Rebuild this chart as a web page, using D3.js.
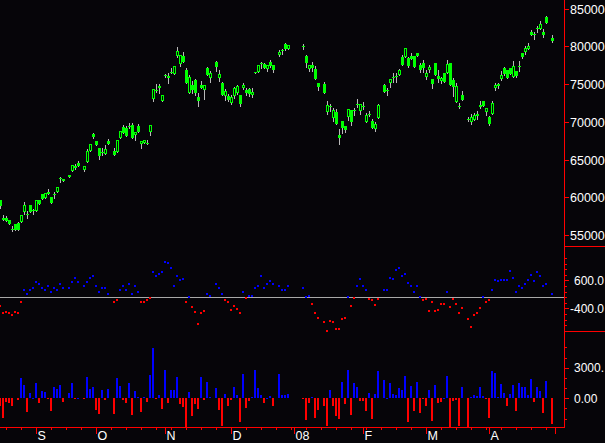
<!DOCTYPE html>
<html><head><meta charset="utf-8">
<script src="https://cdn.jsdelivr.net/npm/d3@7"></script>
<style>html,body{margin:0;padding:0;background:#060509;}svg{display:block;}</style>
</head><body><svg id="c" width="605" height="443"></svg>
<script>
// ---------- data ----------
const startDate = "2007-08-16";              // first weekday slot
const monthLabels = ["S","O","N","D","08","F","M","A",""];
const priceTicks = [55000,60000,65000,70000,75000,80000,85000];
const oscTicks = [600,-400];
const oscTickText = ["600.0","-400.0"];
const volTicks = [3000,0];
const volTickText = ["3000.","0.00"];

const opens = [
59700,57300,57200,56950,55850,56450,56600,56750,58000,57850,
58950,58300,58200,59600,60400,59850,60700,60050,60400,60700,
62500,62400,null,63000,63500,64150,64500,null,63600,64700,
66150,68400,67450,66500,66050,65800,67450,null,66150,66050,
67900,69350,69150,69500,69600,68250,69450,67000,67150,67250,
68600,73050,74200,74750,72800,76250,76100,76650,76400,78750,
77650,78750,76900,73800,74900,75550,73300,74900,74200,77200,
75850,null,78000,75850,75150,73450,73450,72550,73450,73800,
73550,74450,74200,74300,73550,76550,76650,77750,77650,77000,
78000,77550,null,78850,79550,80350,79650,null,null,null,
null,80050,78750,77000,77550,77000,75100,null,75000,71250,
72100,70450,71300,68250,70100,69450,70700,71550,71550,72350,
71500,72100,70000,71100,70100,69000,70450,null,74900,74200,
75100,75900,76050,76200,78650,78550,78450,78750,78750,79100,
77550,77850,75900,76900,75650,77750,76100,75350,76450,76500,
77750,75550,72650,72100,73550,null,70350,70000,70250,71050,
72250,72750,71350,70700,71100,74450,75000,75650,77100,76900,
77100,76000,76800,77450,79100,79200,79600,81900,81600,82400,
82300,81950,83950,null,81150];
const highs = [
59700,57700,57500,56950,56150,56450,56700,57700,59350,58200,
58950,58500,59600,59600,60400,60600,61150,60050,60700,61300,
62650,62400,null,63000,64250,64400,64750,null,64150,66450,
67050,68550,67450,66500,66500,66950,67700,null,66500,67600,
68800,69600,69450,69900,69900,68700,69700,67450,67600,67650,
69600,74300,75000,75000,73550,76350,76450,77100,77400,79950,
78850,79200,77100,76200,75350,75700,73800,75400,74900,77300,
76750,null,78050,76900,75300,74300,73650,73550,74600,74950,
73550,75100,74450,74550,74450,76600,77550,78000,77750,77550,
78200,77550,null,79500,79700,80400,80200,null,null,null,
null,80350,78850,77550,78000,77400,75100,null,75300,72750,
72400,71800,71700,69000,70100,69450,71700,71550,71900,73050,
72350,72650,71200,71450,70350,70000,72350,null,75000,74450,
75650,76450,76450,77000,78850,79750,78650,79100,78750,79100,
77750,78200,76900,77550,75650,77850,76900,76000,76450,78200,
77850,75750,75200,72450,74150,null,70700,71100,71200,71450,
72750,72750,71900,70750,72700,75100,75100,76800,77300,76900,
77100,78050,76800,78050,79100,80000,80400,82150,81950,82700,
83400,82300,84050,null,81500];
const lows = [
58550,56950,56850,56450,55550,55700,55600,56750,57850,57300,
58050,57750,58200,59150,59800,59850,60400,59250,59950,60700,
62050,62200,null,62700,63500,63800,64150,null,63500,64700,
66150,67800,66900,65100,65600,65800,67050,null,65600,66050,
67900,68550,68150,69150,67900,67650,68700,66500,67150,67000,
68300,72800,74000,73850,72800,75900,75200,76450,76400,78650,
77450,78000,75200,73800,73800,73550,72150,74500,73000,76200,
75300,null,76800,75450,73550,72900,72800,72350,73100,73650,
72100,74300,73550,73450,73350,76500,76650,77100,77100,76800,
77300,76650,null,78750,79000,79550,79650,null,null,null,
null,79650,77300,76800,76800,75700,74200,null,73850,71100,
71500,70150,69700,67050,68550,68700,70250,69550,70900,72000,
71100,71700,70000,70750,69200,68800,70450,null,74000,73550,
74650,75300,75300,76200,77550,78550,77300,78300,77300,78750,
76650,76650,75650,76650,74450,76200,75300,75200,75300,76500,
74900,73450,72600,71900,72900,null,70150,69650,70250,70350,
71900,72100,70900,69600,71050,74200,74450,75550,76200,75750,
76350,75900,76000,76800,78450,79000,79600,81450,80950,81950,
82300,81200,83100,null,80650];
const closes = [
58800,56950,56850,56500,55850,55700,55650,57700,58950,57850,
58050,58300,59600,59150,59800,60600,60400,59250,60400,61300,
62500,62200,null,62700,64250,63900,64150,null,64150,66100,
67050,68000,66900,65500,66050,66400,67050,null,65600,67600,
68800,68550,68150,69500,67900,68700,68700,67450,67600,67250,
69600,74300,74200,74500,73550,76250,75850,76450,77400,79400,
78850,78000,75200,76000,74200,73850,72750,74500,74900,76200,
76500,null,77250,76350,73550,74150,72900,73350,74450,74750,
72350,74900,73850,73700,74000,76550,77550,77750,77200,77550,
77450,76900,null,79300,79550,79650,80200,null,null,null,
null,80050,77850,77550,77100,75700,74650,null,73850,72250,
72100,71550,69700,67900,69250,68900,71700,70000,71550,72350,
72350,72100,70900,71100,69200,69700,72250,null,74000,74200,
75650,75900,75900,76900,77550,79750,77400,78300,77300,78750,
76900,77100,76500,77300,75000,76200,75650,75750,75300,77650,
74900,74650,74750,72100,72900,null,70350,70600,70900,70750,
72000,72100,71800,69700,72550,74900,74750,76200,76350,75750,
76350,77400,76100,77450,78550,79750,80100,81500,81600,82400,
83000,81500,83150,null,80750];

const oscillator = [
-310,-560,-530,-560,-630,-530,-560,-190,240,100,
240,340,530,480,310,240,390,170,310,240,
460,310,null,310,530,680,530,null,410,530,
680,750,410,190,310,310,120,null,-190,-100,
240,410,240,460,120,410,170,-190,-170,-120,
-20,890,770,820,890,1260,1210,1040,410,750,
600,630,-170,5,-340,-530,-970,-560,-480,120,
50,null,460,340,120,-120,-190,-460,-310,-410,
-560,170,-20,50,50,310,390,750,340,480,
560,460,null,390,270,270,390,null,null,null,
null,340,20,50,-240,-560,-750,null,-890,-1200,
-850,-890,-1140,-1140,-770,-750,20,-310,-20,390,
630,390,270,-50,-120,-270,-50,null,240,270,
680,630,970,1040,770,820,510,410,190,410,
20,-100,-50,-480,-170,-480,-460,-240,-240,170,
-340,-50,-240,-560,-390,null,-770,-1060,-630,-560,
-390,20,-190,-100,270,600,560,600,600,600,
920,700,190,390,340,460,600,800,560,890,
770,410,480,null,100];

const volumeFlow = [
-750,-1900,-330,-420,-720,0,-160,1990,1310,-1310,
560,70,1540,-420,720,650,-60,-1240,1140,880,
1310,-330,null,560,1540,-60,60,null,-60,2120,
920,1140,-1140,-1540,820,-160,920,null,-1540,2030,
1240,-160,-420,1540,-1630,720,160,-1310,100,-330,
2290,4970,-60,330,-1050,2780,-420,820,820,2120,
-560,-880,-2950,650,-1730,-560,-1050,2120,-160,1630,
160,null,1050,-1140,-2710,420,-750,-160,1080,330,
-2290,2390,-920,-260,100,2780,1050,330,-420,60,
230,-720,null,2390,330,330,420,null,null,null,
null,-100,-2120,-490,130,-1900,-1140,null,-750,-2680,
820,-720,-1730,-2030,1630,-560,2780,-1630,1470,1140,
-230,-230,-1210,560,-2060,420,2710,null,1800,60,
1540,390,330,980,820,2190,-2350,1210,-1240,1630,
-1470,-60,-720,820,-2190,1310,-420,-330,60,2190,
-2840,-230,-160,-2680,1080,null,-2840,100,330,230,
1080,260,-100,-1900,2680,2520,160,1370,490,-720,
420,1310,-1210,1470,1140,1140,330,1900,-330,1140,
720,-1410,1700,null,-2520];

// ---------- layout ----------
const svg = d3.select("#c").attr("shape-rendering","crispEdges");
const W = 605, H = 443, axisX = 564;
const green = "#00ff00", wickCol = "#b8b8b8", red = "#ff0000", blue = "#0000ff";
const font = "Liberation Sans, Arial, sans-serif";

// weekday slots (categories)
const slots = [];
{
  let d = new Date(startDate + "T00:00:00");
  while (slots.length < 186) {
    const wd = d.getDay();
    if (wd !== 0 && wd !== 6) slots.push(new Date(d));
    d.setDate(d.getDate() + 1);
  }
}
const x = d3.scaleLinear().domain([0, 185]).range([0, 555]);

const yP = d3.scaleLinear().domain([55000, 85000]).range([235, 8.7]);
const yO = d3.scaleLinear().domain([-400, 600]).range([308.3, 280.3]);
const yV = d3.scaleLinear().domain([0, 3000]).range([398.3, 367.7]);

// ---------- price panel (candles) ----------
const candles = opens.map((o, i) => o == null ? null :
  {i, o, h: highs[i], l: lows[i], c: closes[i]}).filter(d => d);
const gP = svg.append("g");
gP.selectAll("rect.wick").data(candles).join("rect")
  .attr("x", d => Math.round(x(d.i)))
  .attr("y", d => Math.round(yP(d.h)))
  .attr("width", 1)
  .attr("height", d => Math.max(1, Math.round(yP(d.l)) - Math.round(yP(d.h)) + 1))
  .attr("fill", wickCol);
gP.selectAll("rect.body").data(candles).join("rect")
  .attr("x", d => Math.round(x(d.i)) - 1)
  .attr("y", d => Math.round(yP(Math.max(d.o, d.c))))
  .attr("width", 3)
  .attr("height", d => Math.max(1, Math.round(yP(Math.min(d.o, d.c))) - Math.round(yP(Math.max(d.o, d.c)))))
  .attr("fill", green);
// hollow (up) candles: black interior
gP.selectAll("rect.hole").data(candles.filter(d => d.c > d.o &&
    Math.round(yP(d.o)) - Math.round(yP(d.c)) > 2)).join("rect")
  .attr("x", d => Math.round(x(d.i)))
  .attr("y", d => Math.round(yP(d.c)) + 1)
  .attr("width", 1)
  .attr("height", d => Math.round(yP(d.o)) - Math.round(yP(d.c)) - 2)
  .attr("fill", "#060509");

// ---------- oscillator panel ----------
svg.append("defs").append("clipPath").attr("id","clipO")
  .append("rect").attr("x",0).attr("y",247).attr("width",axisX).attr("height",85);
const zeroY = Math.round(yO(0));
svg.append("rect").attr("x",0).attr("y",zeroY).attr("width",axisX).attr("height",1).attr("fill","#a8a8a8");
const oscPts = oscillator.map((v,i) => v == null ? null : {i, v}).filter(d => d);
svg.append("g").attr("clip-path","url(#clipO)")
  .selectAll("rect").data(oscPts).join("rect")
  .attr("x", d => Math.round(x(d.i)) - 1)
  .attr("y", d => Math.round(yO(d.v)) - 1)
  .attr("width", 2).attr("height", 2)
  .attr("fill", d => d.v >= 0 ? blue : red);

// ---------- volume-flow panel ----------
const volPts = volumeFlow.map((v,i) => v == null ? null : {i, v}).filter(d => d && d.v !== 0);
const y0V = Math.round(yV(0));
svg.append("g").selectAll("rect").data(volPts).join("rect")
  .attr("x", d => Math.round(x(d.i)) - 1)
  .attr("y", d => d.v > 0 ? Math.round(yV(d.v)) : y0V)
  .attr("width", 2)
  .attr("height", d => Math.max(1, Math.abs(Math.round(yV(d.v)) - y0V)))
  .attr("fill", d => d.v > 0 ? blue : red);

// ---------- axes ----------
const ax = svg.append("g");
// vertical right axis line
ax.append("rect").attr("x",axisX).attr("y",0).attr("width",1).attr("height",428).attr("fill",red);
// panel separators on the axis side
[246, 331].forEach(yy => ax.append("rect").attr("x",axisX).attr("y",yy).attr("width",W-axisX).attr("height",1).attr("fill",red));
// bottom axis line
ax.append("rect").attr("x",0).attr("y",427).attr("width",axisX+1).attr("height",1).attr("fill",red);

// price ticks & labels
priceTicks.forEach(t => {
  const yy = Math.round(yP(t));
  ax.append("rect").attr("x",axisX+1).attr("y",yy).attr("width",4).attr("height",1).attr("fill",red);
  ax.append("text").attr("x",570).attr("y",yy+4.5).text(t)
    .attr("fill","#fff").attr("font-family",font).attr("font-size",12.5);
});
// oscillator ticks
d3.range(-1200, 1401, 200).forEach(t => {
  const yy = Math.round(yO(t));
  const major = oscTicks.includes(t);
  ax.append("rect").attr("x",axisX+1).attr("y",yy).attr("width",major?4:2).attr("height",1).attr("fill",red);
});
oscTicks.forEach((t,k) => {
  ax.append("text").attr("x", t < 0 ? 570 : 574).attr("y", yO(t)+4.5).text(oscTickText[k])
    .attr("fill","#fff").attr("font-family",font).attr("font-size",12);
});
// volume ticks
d3.range(-2000, 5001, 1000).forEach(t => {
  const yy = Math.round(yV(t));
  const major = volTicks.includes(t);
  ax.append("rect").attr("x",axisX+1).attr("y",yy).attr("width",major?4:2).attr("height",1).attr("fill",red);
});
volTicks.forEach((t,k) => {
  ax.append("text").attr("x",574).attr("y", yV(t)+4.5).text(volTickText[k])
    .attr("fill","#fff").attr("font-family",font).attr("font-size",12);
});

// time axis: weekly (Monday) minor ticks, month major ticks
const monthStarts = [];
slots.forEach((d,i) => {
  const isMonth = i > 0 && d.getMonth() !== slots[i-1].getMonth();
  if (isMonth) monthStarts.push(i);
  if (d.getDay() === 1 || isMonth) {
    ax.append("rect").attr("x", Math.round(x(i))).attr("y",428)
      .attr("width",1).attr("height", isMonth ? 6 : 2).attr("fill",red);
  }
});
monthStarts.forEach((i,k) => {
  if (!monthLabels[k]) return;
  ax.append("text").attr("x", Math.round(x(i)) + 1.5).attr("y", 440).text(monthLabels[k])
    .attr("fill","#fff").attr("font-family",font).attr("font-size",12.5);
});
</script>
</body></html>
